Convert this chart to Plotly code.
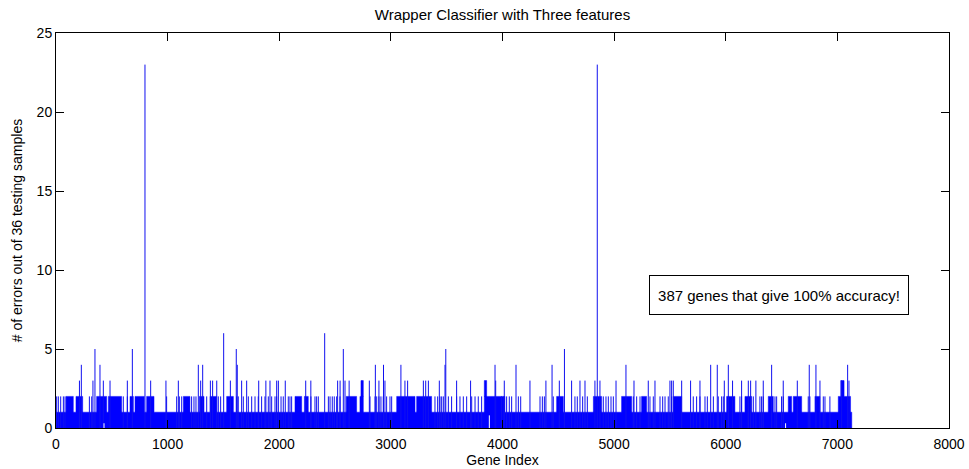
import plotly.graph_objects as go

# ---- data ----
n_genes = 7129

# gene index and error count of the isolated tall spikes (>= 3 errors)
spike_genes = [210, 227, 331, 349, 394, 424, 484, 639, 684, 797, 848, 985, 1096,
               1275, 1296, 1314, 1383, 1403, 1440, 1502, 1562, 1615, 1624, 1663,
               1708, 1816, 1880, 1917, 1977, 1992, 2054, 2237, 2283, 2407, 2523,
               2545, 2574, 2589, 2626, 2807, 2861, 2893, 2934, 2947, 3090, 3126,
               3150, 3291, 3312, 3336, 3434, 3485, 3492, 3589, 3714, 3933, 3939,
               4016, 4121, 4246, 4389, 4444, 4509, 4555, 4619, 4694, 4739, 4828,
               4849, 4873, 5017, 5106, 5178, 5306, 5366, 5500, 5515, 5530, 5605,
               5685, 5769, 5865, 5924, 5987, 6023, 6061, 6142, 6202, 6223, 6270,
               6336, 6411, 6515, 6641, 6748, 6808, 6844, 7038, 7092, 7104]
spike_errors = [3, 4, 3, 5, 4, 3, 3, 3, 5, 23, 3, 3, 3,
                4, 3, 4, 3, 3, 3, 6, 3, 5, 4, 3,
                3, 3, 3, 3, 3, 3, 3, 3, 3, 6, 3,
                3, 5, 3, 3, 3, 4, 3, 4, 3, 4, 3,
                3, 3, 3, 3, 3, 4, 5, 3, 3, 4, 3,
                3, 4, 3, 3, 4, 3, 5, 3, 3, 3, 3,
                23, 3, 3, 4, 3, 3, 3, 3, 3, 3, 3,
                3, 3, 4, 4, 3, 4, 3, 3, 3, 3, 3,
                3, 4, 3, 3, 4, 4, 3, 3, 4, 3]

# isolated genes with 2 errors
two_error_genes = [6, 21, 42, 66, 81, 299, 320, 603, 639, 991, 1081, 1105, 1126,
                   1215, 1236, 1254, 1350, 1454, 1475, 1618, 1633, 1678, 1723, 1753,
                   1783, 1812, 1842, 1872, 1902, 1932, 1962, 1977, 2016, 2036, 2081,
                   2096, 2111, 2284, 2320, 2335, 2350, 2440, 2455, 2475, 2493, 2514,
                   2544, 2813, 2858, 2873, 2893, 2911, 2932, 2962, 2992, 3007, 3395,
                   3419, 3440, 3455, 3470, 3515, 3544, 3589, 3619, 3649, 3679, 3724,
                   3754, 3783, 3813, 3992, 4013, 4037, 4061, 4082, 4142, 4163, 4336,
                   4357, 4375, 4455, 4649, 4670, 4718, 4760, 4903, 4927, 4948, 4972,
                   4993, 5172, 5202, 5232, 5321, 5351, 5411, 5435, 5456, 5485, 5515,
                   5709, 5739, 5769, 5814, 5835, 5889, 5933, 5963, 5978, 6023, 6127,
                   6142, 6202, 6223, 6247, 6306, 6321, 6336, 6441, 6456, 6500, 6515,
                   6739, 6754, 6874, 6889, 6933]

# runs of genes that alternate densely between 1 and 2 errors
dense2_start = [90, 179, 364, 469, 663, 708, 812, 1141, 1284, 1380, 1529, 2141,
                2225, 2600, 2723, 3052, 3231, 3837, 4485, 4814, 5067, 5246, 5530,
                6008, 6172, 6381, 6560, 6605, 6799, 7008]
dense2_end = [155, 239, 454, 588, 693, 791, 878, 1200, 1326, 1440, 1589, 2201,
              2260, 2693, 2753, 3216, 3365, 4022, 4545, 4888, 5157, 5291, 5605,
              6082, 6232, 6426, 6590, 6680, 6844, 7118]

# runs of genes that alternate densely between 2 and 3 errors
dense3_start = [2732, 3837, 7030]
dense3_end = [2753, 3858, 7060]

# genes without any zero-error neighbour (white gaps in the band) and gap depth
gap_genes = [430, 3882, 6536]
gap_depth = [0.3, 0.8, 0.3]

# ---- build traces ----
BLUE = "#0000ff"
bx, by = [], []
for a, b, lo, hi in ([(1, n_genes, 0, 1)]
                     + [(s, e, 1, 2) for s, e in zip(dense2_start, dense2_end)]
                     + [(s, e, 2, 3) for s, e in zip(dense3_start, dense3_end)]):
    bx += [a, b, b, a, a, None]
    by += [lo, lo, hi, hi, lo, None]

sx, sy = [], []
for g, h in zip(two_error_genes, [2] * len(two_error_genes)):
    sx += [g, g, None]
    sy += [0, h, None]
for g, h in zip(spike_genes, spike_errors):
    sx += [g, g, None]
    sy += [0, h, None]

gx, gy = [], []
for g, h in zip(gap_genes, gap_depth):
    gx += [g, g, None]
    gy += [0, h, None]

fig = go.Figure()
fig.add_trace(go.Scatter(x=bx, y=by, mode="lines", fill="toself",
                         fillcolor=BLUE, line=dict(color=BLUE, width=0.5),
                         hoverinfo="skip"))
fig.add_trace(go.Scatter(x=sx, y=sy, mode="lines",
                         line=dict(color="#1010f0", width=1), hoverinfo="skip"))
fig.add_trace(go.Scatter(x=gx, y=gy, mode="lines",
                         line=dict(color="white", width=1), hoverinfo="skip"))

FONT = "Liberation Sans, Arial, sans-serif"
axis_common = dict(showgrid=False, zeroline=False, showline=True,
                   linecolor="black", linewidth=1, mirror="allticks",
                   ticks="inside", ticklen=8, tickcolor="black", tickwidth=1,
                   automargin=False,
                   tickfont=dict(family=FONT, size=14, color="black"))

fig.update_layout(
    width=969, height=469,
    margin=dict(l=56, r=20, t=33, b=41),
    paper_bgcolor="white", plot_bgcolor="white",
    showlegend=False,
    title=dict(text="Wrapper Classifier with Three features",
               font=dict(family=FONT, size=15, color="black"),
               x=0.5, xref="paper", xanchor="center",
               y=1 - 15 / 469, yref="container", yanchor="middle"),
    xaxis=dict(range=[0, 8000], tickvals=[0, 1000, 2000, 3000, 4000, 5000, 6000, 7000, 8000],
               ticklabelstandoff=3,
               title=dict(text="Gene Index", font=dict(family=FONT, size=14, color="black"),
                          standoff=4),
               **axis_common),
    yaxis=dict(range=[0, 25], tickvals=[0, 5, 10, 15, 20, 25],
               title=dict(text="# of errors out of 36 testing samples",
                          font=dict(family=FONT, size=14, color="black"), standoff=10),
               **axis_common),
    annotations=[dict(x=6477, y=8.4, xref="x", yref="y",
                      text="387 genes that give 100% accuracy!",
                      showarrow=False, font=dict(family=FONT, size=15, color="black"),
                      bordercolor="black", borderwidth=1, borderpad=3,
                      bgcolor="white", width=252, height=32,
                      xanchor="center", yanchor="middle")],
)

fig.write_html("out.html")
